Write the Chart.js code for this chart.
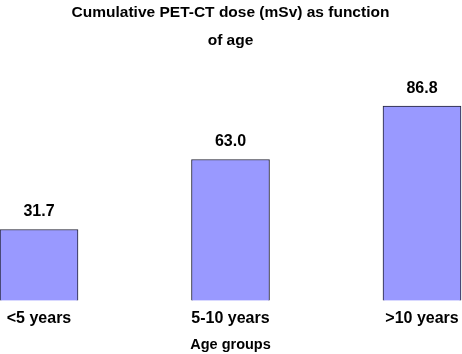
<!DOCTYPE html>
<html>
<head>
<meta charset="utf-8">
<script src="https://cdn.jsdelivr.net/npm/chart.js@4/dist/chart.umd.min.js"></script>
<style>
  html, body { margin: 0; padding: 0; background: #fff; }
  #wrap { width: 462px; height: 354px; position: relative; }
</style>
</head>
<body>
<div id="wrap"><canvas id="c" width="462" height="354"></canvas></div>
<script>
const categories = ['<5 years', '5-10 years', '>10 years'];
const doseValues = [31.7, 63.0, 86.8];
const valueLabels = ['31.7', '63.0', '86.8'];
const titleLines = ['Cumulative PET-CT dose (mSv) as function', 'of age'];
const xAxisTitle = 'Age groups';

const FONT = '"Liberation Sans", Arial, Helvetica, sans-serif';

const valueLabelPlugin = {
  id: 'valueLabels',
  afterDatasetsDraw(chart) {
    const ctx = chart.ctx;
    const meta = chart.getDatasetMeta(0);
    ctx.save();
    ctx.font = 'bold 16px ' + FONT;
    ctx.fillStyle = '#000';
    ctx.textAlign = 'center';
    ctx.textBaseline = 'middle';
    meta.data.forEach((bar, i) => {
      ctx.fillText(valueLabels[i], bar.x, bar.y - 18);
    });
    ctx.restore();
  }
};

new Chart(document.getElementById('c'), {
  type: 'bar',
  data: {
    labels: categories,
    datasets: [{
      data: doseValues,
      backgroundColor: '#9999ff',
      borderColor: '#222233',
      borderWidth: 1,
      barThickness: 78,
      clip: false
    }]
  },
  options: {
    responsive: false,
    animation: false,
    devicePixelRatio: 1,
    layout: { padding: { left: 39, right: 40, top: 0, bottom: 0 } },
    plugins: {
      legend: { display: false },
      tooltip: { enabled: false },
      title: {
        display: true,
        text: titleLines,
        color: '#000',
        font: { family: FONT, size: 15.5, weight: 'bold', lineHeight: 1.806 },
        padding: { top: -1, bottom: 6 }
      }
    },
    scales: {
      x: {
        offset: false,
        grid: { display: false, drawTicks: false },
        border: { display: false },
        afterFit(scale) { scale.paddingLeft = 0; scale.paddingRight = 0; },
        ticks: {
          color: '#000',
          padding: 10,
          maxRotation: 0,
          autoSkip: false,
          font: { family: FONT, size: 16, weight: 'bold', lineHeight: 1 }
        },
        title: {
          display: true,
          text: xAxisTitle,
          color: '#000',
          padding: { top: 0.75, bottom: 2.25 },
          font: { family: FONT, size: 14.5, weight: 'bold', lineHeight: 1 }
        }
      },
      y: {
        display: false,
        min: 0,
        max: 107
      }
    }
  },
  plugins: [valueLabelPlugin]
});
</script>
</body>
</html>
